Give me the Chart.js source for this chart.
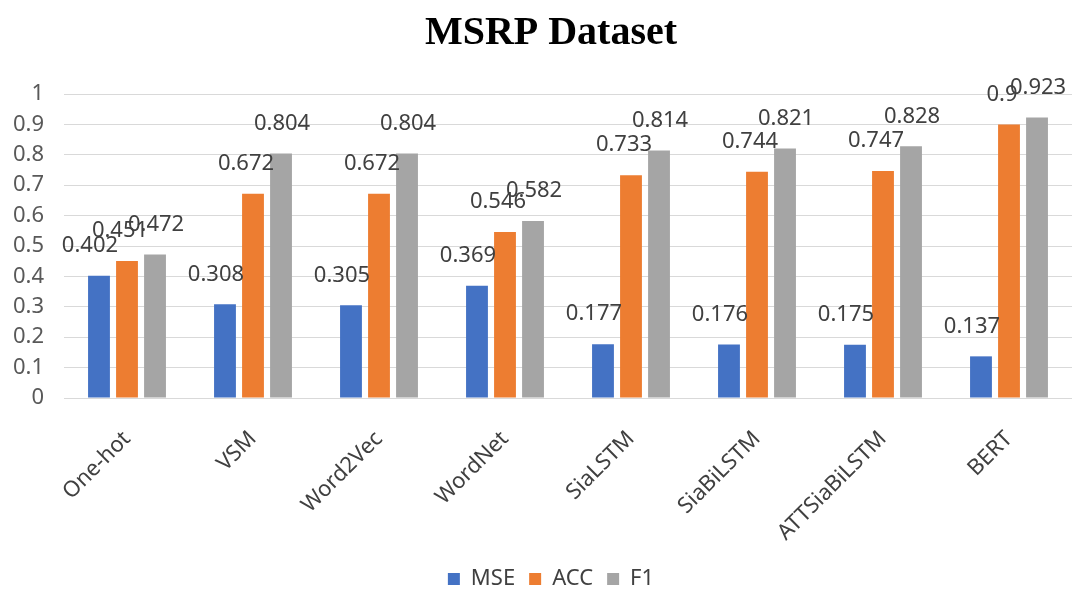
<!DOCTYPE html>
<html>
<head>
<meta charset="utf-8">
<script src="https://cdn.jsdelivr.net/npm/chart.js@4/dist/chart.umd.min.js"></script>
<style>
  html, body { margin: 0; padding: 0; background: #fff; }
  #wrap { width: 1072px; height: 592px; position: relative; }
</style>
</head>
<body>
<div id="wrap"><canvas id="c" width="1072" height="592"></canvas></div>
<script>
const categories = ["One-hot", "VSM", "Word2Vec", "WordNet", "SiaLSTM", "SiaBiLSTM", "ATTSiaBiLSTM", "BERT"];
const mseValues = [0.402, 0.308, 0.305, 0.369, 0.177, 0.176, 0.175, 0.137];
const accValues = [0.451, 0.672, 0.672, 0.546, 0.733, 0.744, 0.747, 0.9];
const f1Values  = [0.472, 0.804, 0.804, 0.582, 0.814, 0.821, 0.828, 0.923];
const yTicks = [0, 0.1, 0.2, 0.3, 0.4, 0.5, 0.6, 0.7, 0.8, 0.9, 1];

const FONT = '"Noto Sans", "Open Sans", sans-serif';
const labelShift = [-9, -7, 1];

const valueLabels = {
  id: 'valueLabels',
  afterDatasetsDraw(chart) {
    const ctx = chart.ctx;
    ctx.save();
    ctx.font = '22px ' + FONT;
    ctx.fillStyle = '#404040';
    ctx.textAlign = 'center';
    ctx.textBaseline = 'middle';
    chart.data.datasets.forEach((ds, di) => {
      const meta = chart.getDatasetMeta(di);
      meta.data.forEach((el, i) => {
        ctx.fillText(String(ds.data[i]), el.x + labelShift[di], el.y - 30);
      });
    });
    ctx.restore();
  }
};

const shiftBlocks = {
  id: 'shiftBlocks',
  afterLayout(chart) {
    const s = 15;
    [chart.titleBlock, chart.legend].forEach(b => {
      if (b) { b.left += s; b.right += s; }
    });
  }
};

new Chart(document.getElementById('c'), {
  type: 'bar',
  data: {
    labels: categories,
    datasets: [
      { label: 'MSE', data: mseValues, backgroundColor: '#4472C4' },
      { label: 'ACC', data: accValues, backgroundColor: '#ED7D31' },
      { label: 'F1',  data: f1Values,  backgroundColor: '#A5A5A5' }
    ]
  },
  options: {
    responsive: false,
    animation: false,
    layout: { padding: { left: 0, right: 0, top: 10, bottom: -8 } },
    datasets: { bar: { categoryPercentage: 0.667, barPercentage: 0.78 } },
    scales: {
      x: {
        grid: { display: false },
        border: { display: true, color: '#d9d9d9' },
        afterFit(scale) { scale.paddingLeft = 0; scale.paddingRight = 0; scale.height = 156; },
        ticks: {
          minRotation: 45, maxRotation: 45,
          color: '#404040',
          font: { family: FONT, size: 22 },
          padding: 20
        }
      },
      y: {
        min: 0, max: 1,
        afterBuildTicks(axis) { axis.ticks = yTicks.map(v => ({ value: v })); },
        afterFit(scale) { scale.width = 64; },
        grid: { color: '#d9d9d9', lineWidth: 1, drawTicks: false },
        border: { display: false },
        ticks: {
          color: '#595959',
          font: { family: FONT, size: 22 },
          padding: 20,
          callback: (v) => String(v)
        }
      }
    },
    plugins: {
      title: {
        display: true,
        text: 'MSRP Dataset',
        color: '#000',
        font: { family: '"Liberation Serif", "Times New Roman", serif', size: 40, weight: 'bold' },
        padding: { top: 0, bottom: 36 }
      },
      legend: {
        position: 'bottom',
        labels: {
          color: '#404040',
          font: { family: FONT, size: 22 },
          boxWidth: 12, boxHeight: 12,
          padding: 14
        }
      },
      tooltip: { enabled: false }
    }
  },
  plugins: [valueLabels, shiftBlocks]
});
</script>
</body>
</html>
